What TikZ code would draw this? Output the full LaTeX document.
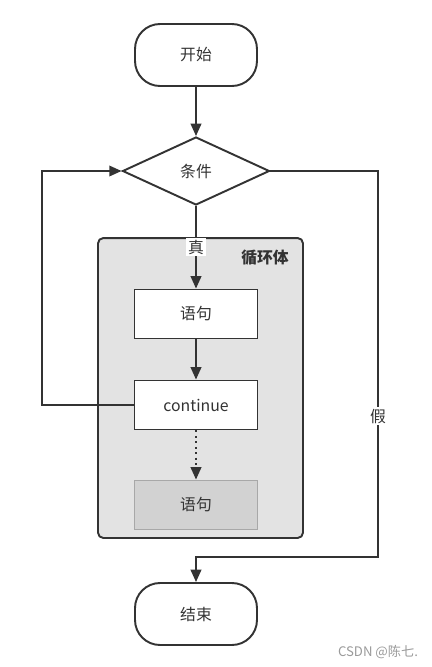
\documentclass[tikz,border=0pt]{standalone}
\usepackage{fontspec}
\setmainfont{Noto Sans CJK SC}
\usetikzlibrary{shapes.geometric,arrows.meta}
\definecolor{ink}{HTML}{333333}
\definecolor{bodygray}{HTML}{E3E3E3}
\definecolor{skipgray}{HTML}{D2D2D2}
\definecolor{skipline}{HTML}{A8A8A8}
\definecolor{markgray}{HTML}{9A9A9A}
\begin{document}
\begin{tikzpicture}[x=0.02cm,y=-0.02cm,font=\fontsize{9}{11}\selectfont,text=ink]
\tikzstyle{every node}+=[inner sep=0pt]
\tikzstyle{terminal}=[draw=ink,line width=1.1pt,rounded corners=0.5cm,minimum width=2.44cm,minimum height=1.24cm]
\tikzstyle{stmt}=[draw=ink,line width=1.1pt,fill=white,minimum width=2.46cm,minimum height=0.98cm]
\tikzstyle{flow}=[draw=ink,line width=1.1pt,-{Triangle[length=7pt,width=6pt]}]
\tikzstyle{tag}=[fill=white,inner sep=1pt]
\useasboundingbox (0,0) rectangle (432,667);
\node [draw=ink,line width=1.1pt,fill=bodygray,rounded corners=3pt,minimum width=4.1cm,minimum height=6cm] (body) at (200.5,388) {};
\node [font=\fontsize{9}{11}\selectfont\bfseries] (bodytitle) at (265,258) {循环体};
\node [terminal] (start) at (196,55) {开始};
\node [draw=ink,line width=1.1pt,diamond,fill=white,minimum width=2.94cm,minimum height=1.36cm] (cond) at (196,171) {条件};
\node [stmt] (stmtA) at (196,314) {语句};
\node [stmt] (cont) at (196,405) {continue};
\node [stmt,draw=skipline,fill=skipgray] (stmtB) at (196,505) {语句};
\node [terminal] (stop) at (196,614) {结束};
\coordinate (backL) at (42,171);
\coordinate (falseT) at (378,171);
\coordinate (falseB) at (378,557);
\draw [flow] (start) -- (cond);
\draw [flow] (cond.south) -- node [tag] {真} (stmtA.north);
\draw [flow] (stmtA) -- (cont);
\draw [flow,dotted] (cont) -- (stmtB);
\draw [flow] (cont.west) -| (backL) -- (cond.west);
\draw [flow] (cond.east) -- (falseT) -- node [tag,pos=0.635] {假} (falseB) -| (stop.north);
\node [text=markgray,font=\fontsize{7.5}{9}\selectfont] (mark) at (378,652) {CSDN @陈七.};
\end{tikzpicture}
\end{document}
